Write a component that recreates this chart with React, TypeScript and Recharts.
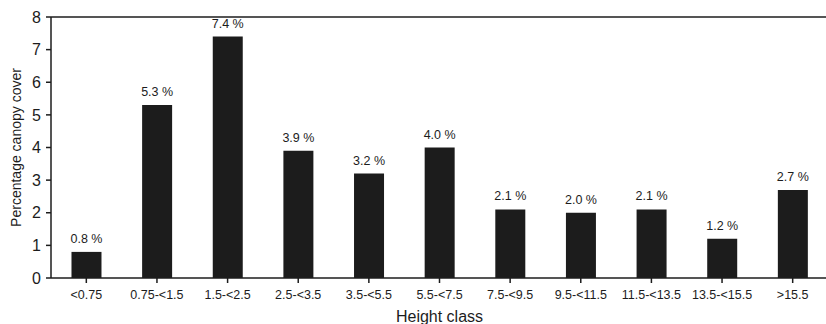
import React from "react";
import { BarChart, Bar, XAxis, YAxis, LabelList, ReferenceLine } from "recharts";

const categories = ["<0.75", "0.75-<1.5", "1.5-<2.5", "2.5-<3.5", "3.5-<5.5", "5.5-<7.5", "7.5-<9.5", "9.5-<11.5", "11.5-<13.5", "13.5-<15.5", ">15.5"];
const cover = [0.8, 5.3, 7.4, 3.9, 3.2, 4.0, 2.1, 2.0, 2.1, 1.2, 2.7];
const yTicks = [0, 1, 2, 3, 4, 5, 6, 7, 8];

const data = categories.map((c, i) => ({ name: c, value: cover[i] }));

const FONT = "'Liberation Sans', Arial, sans-serif";
const INK = "#1c1c1c";

const BarLabel = (props: any) => {
  const { x, y, width, value } = props;
  return (
    <text x={Number(x) + Number(width) / 2} y={Number(y) - 9} textAnchor="middle" fill={INK} fontSize={12.5} fontFamily={FONT}>
      {`${Number(value).toFixed(1)} %`}
    </text>
  );
};

export default function App() {
  return (
    <div style={{ position: "absolute", left: 0, top: 0, width: 826, height: 324, overflow: "hidden", background: "#fff" }}>
      <BarChart
        width={830}
        height={324}
        data={data}
        margin={{ top: 17, right: 2, left: 0, bottom: 0 }}
        barCategoryGap="29%"
        style={{ fontFamily: FONT }}
      >
        <ReferenceLine y={8} stroke={INK} strokeWidth={1.5} />
        <XAxis
          dataKey="name"
          height={46}
          interval={0}
          stroke={INK}
          strokeWidth={1.5}
          tickSize={5}
          tickMargin={7}
          tick={{ fill: INK, fontSize: 12.5, fontFamily: FONT }}
          label={{ value: "Height class", position: "insideBottom", offset: 2, fill: INK, fontSize: 16, fontFamily: FONT }}
        />
        <YAxis
          width={51}
          domain={[0, 8]}
          ticks={yTicks}
          interval={0}
          stroke={INK}
          strokeWidth={1.5}
          tickSize={5}
          tickMargin={5}
          tick={{ fill: INK, fontSize: 16, fontFamily: FONT }}
          label={{ value: "Percentage canopy cover", angle: -90, position: "insideLeft", offset: 16, fill: INK, fontSize: 14, fontFamily: FONT, style: { textAnchor: "middle" } }}
        />
        <Bar dataKey="value" fill={INK} isAnimationActive={false}>
          <LabelList dataKey="value" content={BarLabel} />
        </Bar>
      </BarChart>
    </div>
  );
}
